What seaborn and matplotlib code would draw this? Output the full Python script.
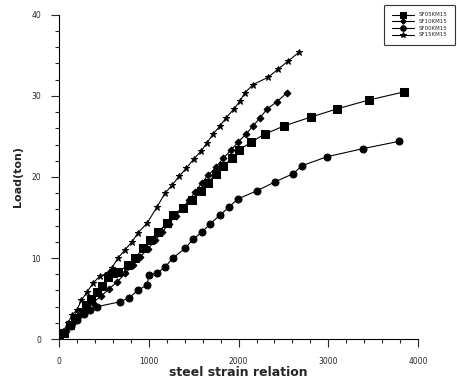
import pandas as pd
import matplotlib.pyplot as plt
import seaborn as sns
from matplotlib.ticker import MultipleLocator

sns.set_theme(style="white")

# serie: deformazione acciaio (x) e carico in ton (y)
sq_x = [0, 60, 120, 180, 240, 300, 360, 420, 480, 546, 602, 657, 769, 847, 936, 1014, 1103,
        1203, 1270, 1380, 1480, 1582, 1660, 1749, 1827, 1928, 2006, 2139, 2295, 2507, 2808,
        3097, 3454, 3844]
sq_y = [0, 0.8, 1.7, 2.6, 3.4, 4.2, 5.0, 5.8, 6.6, 7.6, 8.1, 8.3, 9.1, 10.0, 11.2, 12.2, 13.2,
        14.3, 15.3, 16.2, 17.2, 18.3, 19.3, 20.4, 21.4, 22.3, 23.3, 24.3, 25.3, 26.3, 27.4,
        28.4, 29.5, 30.5]

di_x = [0, 80, 150, 220, 300, 380, 470, 560, 650, 740, 820, 900, 990, 1070, 1150, 1220, 1300,
        1380, 1450, 1520, 1593, 1660, 1749, 1827, 1916, 1994, 2084, 2162, 2240, 2318, 2429, 2540]
di_y = [0, 1.0, 1.9, 2.8, 3.7, 4.5, 5.3, 6.2, 7.1, 8.1, 9.1, 10.1, 11.1, 12.2, 13.2, 14.2, 15.2,
        16.2, 17.2, 18.2, 19.3, 20.2, 21.2, 22.3, 23.3, 24.3, 25.3, 26.3, 27.3, 28.4, 29.3, 30.4]

ci_x = [0, 60, 130, 200, 280, 350, 423, 680, 780, 880, 981, 1003, 1092, 1181, 1270, 1404, 1493,
        1593, 1682, 1794, 1894, 1994, 2206, 2407, 2607, 2708, 2986, 3387, 3788]
ci_y = [0, 0.8, 1.6, 2.4, 3.1, 3.6, 4.0, 4.6, 5.1, 6.0, 6.7, 7.9, 8.1, 8.9, 10.0, 11.2, 12.3,
        13.2, 14.2, 15.3, 16.3, 17.3, 18.3, 19.4, 20.4, 21.4, 22.5, 23.5, 24.4]

st_x = [0, 50, 100, 150, 200, 250, 312, 380, 457, 546, 591, 657, 735, 813, 880, 981, 1092, 1181,
        1260, 1340, 1420, 1500, 1582, 1649, 1716, 1794, 1861, 1950, 2017, 2072, 2162, 2329,
        2440, 2552, 2674]
st_y = [0, 1.0, 2.0, 3.0, 3.6, 4.8, 5.8, 6.9, 7.8, 8.1, 8.8, 10.0, 11.0, 12.0, 13.1, 14.3, 16.3,
        18.0, 19.0, 20.1, 21.1, 22.2, 23.2, 24.2, 25.3, 26.3, 27.3, 28.4, 29.4, 30.4, 31.4,
        32.3, 33.3, 34.3, 35.4]

labels = ["SF05KM15", "SF10KM15", "SF00KM15", "SF15KM15"]

serie = [
    (sq_x, sq_y, "s", 5.5),
    (di_x, di_y, "D", 3.5),
    (ci_x, ci_y, "o", 5),
    (st_x, st_y, "*", 5),
]

fig = plt.figure(figsize=(4.57, 3.81), dpi=100)
ax = fig.add_axes([0.129, 0.110, 0.786, 0.851])

for (xs, ys, mk, ms), lab in zip(serie, labels):
    df = pd.DataFrame({"x": xs, "y": ys})
    sns.lineplot(data=df, x="x", y="y", ax=ax, color="black", lw=0.8, marker=mk,
                 markersize=ms, markeredgecolor="black", label=lab, sort=False)

ax.set_xlim(0, 4000)
ax.set_ylim(0, 40)
ax.xaxis.set_major_locator(MultipleLocator(1000))
ax.xaxis.set_minor_locator(MultipleLocator(200))
ax.yaxis.set_major_locator(MultipleLocator(10))
ax.yaxis.set_minor_locator(MultipleLocator(2))
ax.tick_params(which="major", direction="out", length=6, width=0.8, labelsize=5.5,
               bottom=True, left=True, pad=7)
ax.tick_params(which="minor", direction="out", length=3, width=0.8, bottom=True, left=True)
for s in ["top", "right"]:
    ax.spines[s].set_visible(False)
for s in ["left", "bottom"]:
    ax.spines[s].set_color("black")
    ax.spines[s].set_linewidth(0.8)

ax.set_xlabel("steel strain relation", fontsize=9, fontweight="bold", labelpad=0)
ax.set_ylabel("Load(ton)", fontsize=8, fontweight="bold", labelpad=6)

ax.get_legend().remove()
h, l = ax.get_legend_handles_labels()
leg = fig.legend(h, l, loc="upper left", bbox_to_anchor=(0.835, 0.995), fontsize=4,
                 frameon=True, fancybox=True, edgecolor="black", handlelength=4,
                 borderpad=1.4, labelspacing=0.3, markerscale=0.8)
leg.get_frame().set_linewidth(0.8)

plt.savefig("out.png", dpi=100)
plt.close()
